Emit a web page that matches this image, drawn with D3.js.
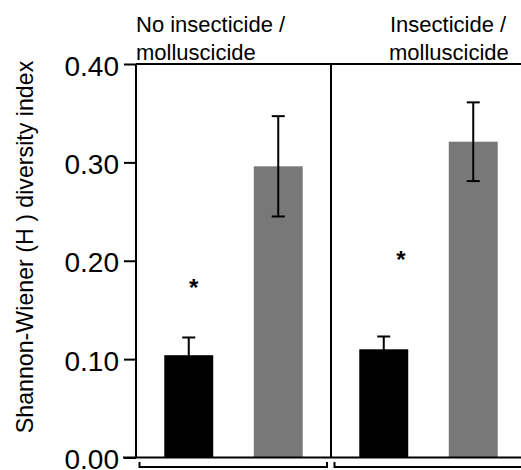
<!DOCTYPE html>
<html><head><meta charset="utf-8">
<script src="https://cdn.jsdelivr.net/npm/d3@7"></script>
<style>body{margin:0;background:#fff}svg{display:block}text{font-family:"Liberation Sans",Arial,sans-serif}</style>
</head><body><svg id="c" width="521" height="470"></svg>
<script>
const panels = ["No insecticide / molluscicide", "Insecticide / molluscicide"];
const panelTitleLines = [["No insecticide /", "molluscicide"], ["Insecticide /", "molluscicide"]];
const series = ["Black", "Gray"];
const blackMeans = [0.104, 0.110];
const blackSE = [0.018, 0.013];
const grayMeans = [0.296, 0.321];
const graySE = [0.051, 0.040];
const sigMarkY = [0.175, 0.204];
const yTicks = [0.0, 0.1, 0.2, 0.3, 0.4];
const yLabel = "Shannon-Wiener (H ) diversity index";

const svg = d3.select("#c");
const mLeft = 136, mTop = 64, mBottom = 457.5, panelW = 195;
const y = d3.scaleLinear().domain([0, 0.4]).range([mBottom, mTop]);
const px = d3.scaleBand().domain(panels).range([mLeft, mLeft + panelW * 2]).padding(0);
const bx = d3.scaleBand().domain(series).range([0, panelW]).paddingInner(0.453).paddingOuter(0.316);
const colors = {Black: "#000000", Gray: "#787878"};

const data = [];
panels.forEach((p, i) => {
  data.push({panel: p, s: "Black", v: blackMeans[i], e: blackSE[i]});
  data.push({panel: p, s: "Gray", v: grayMeans[i], e: graySE[i]});
});

// bars
svg.selectAll("rect.bar").data(data).enter().append("rect")
  .attr("x", d => px(d.panel) + bx(d.s))
  .attr("width", bx.bandwidth())
  .attr("y", d => y(d.v))
  .attr("height", d => y(0) - y(d.v))
  .attr("fill", d => colors[d.s]);

// error bars
const cap = 13;
const eb = svg.selectAll("g.eb").data(data).enter().append("g")
  .attr("stroke", "#000").attr("stroke-width", 2);
eb.append("line")
  .attr("x1", d => px(d.panel) + bx(d.s) + bx.bandwidth() / 2)
  .attr("x2", d => px(d.panel) + bx(d.s) + bx.bandwidth() / 2)
  .attr("y1", d => y(d.v - d.e)).attr("y2", d => y(d.v + d.e));
[1, -1].forEach(sg => {
  eb.append("line")
    .attr("x1", d => px(d.panel) + bx(d.s) + bx.bandwidth() / 2 - cap / 2)
    .attr("x2", d => px(d.panel) + bx(d.s) + bx.bandwidth() / 2 + cap / 2)
    .attr("y1", d => y(d.v + sg * d.e)).attr("y2", d => y(d.v + sg * d.e));
});

// asterisks
const sigDx = [0.6, 0.85];
panels.forEach((p, i) => {
  svg.append("text")
    .attr("x", px(p) + bx("Black") + bx.bandwidth() * sigDx[i])
    .attr("y", y(sigMarkY[i]) + 11)
    .attr("text-anchor", "middle").attr("font-size", 24).attr("font-weight", "bold")
    .text("*");
});

// frame
svg.append("line").attr("x1", mLeft).attr("x2", 521).attr("y1", mTop).attr("y2", mTop)
  .attr("stroke", "#000").attr("stroke-width", 2);
svg.append("line").attr("x1", mLeft - 13).attr("x2", 521).attr("y1", mBottom).attr("y2", mBottom)
  .attr("stroke", "#000").attr("stroke-width", 2);
svg.append("line").attr("x1", px(panels[1])).attr("x2", px(panels[1])).attr("y1", mTop).attr("y2", mBottom)
  .attr("stroke", "#000").attr("stroke-width", 2);

// y axis
const ax = svg.append("g").attr("transform", `translate(${mLeft},0)`)
  .call(d3.axisLeft(y).tickValues(yTicks).tickFormat(d3.format(".2f")).tickSize(12).tickPadding(5));
ax.select(".domain").attr("stroke-width", 2).attr("d", `M0,${mTop}V${mBottom}`);
ax.selectAll(".tick line").attr("stroke-width", 2);
ax.selectAll(".tick text").attr("font-size", 28).attr("fill", "#000")
  .attr("font-family", '"Liberation Sans",Arial,sans-serif').attr("dy", "0.40em");

// y label
svg.append("text").attr("transform", `translate(33,247) rotate(-90)`)
  .attr("text-anchor", "middle").attr("font-size", 23.2).text(yLabel);

// panel titles
const titleDx = [0, 59];
panels.forEach((p, i) => {
  panelTitleLines[i].forEach((ln, j) => {
    svg.append("text").attr("x", px(p) + titleDx[i] - (j === 1 && i === 1 ? 1 : 0))
      .attr("y", 32 + j * 28).attr("font-size", 22).text(ln);
  });
});

// bottom brackets
panels.forEach((p, i) => {
  const x0 = px(p) + 3.5, x1 = px(p) + panelW - 4;
  svg.append("path").attr("d", `M${x0},462V467H${x1}V462`)
    .attr("fill", "none").attr("stroke", "#000").attr("stroke-width", 2);
});
</script></body></html>
